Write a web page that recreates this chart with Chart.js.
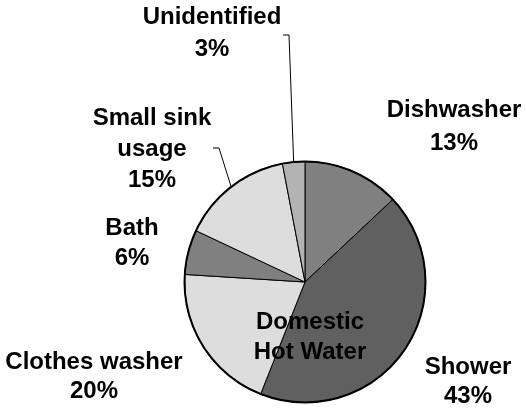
<!DOCTYPE html>
<html>
<head>
<meta charset="utf-8">
<script src="https://cdn.jsdelivr.net/npm/chart.js@4.4.1/dist/chart.umd.min.js"></script>
<style>
  html, body { margin: 0; padding: 0; background: #fff; }
  #wrap { width: 526px; height: 408px; position: relative; }
</style>
</head>
<body>
<div id="wrap"><canvas id="pie"></canvas></div>
<script>
// === Data ===
const categories = ['Dishwasher', 'Shower', 'Clothes washer', 'Bath', 'Small sink usage', 'Unidentified'];
const shares = [13, 43, 20, 6, 15, 3];
const sliceColors = ['#808080', '#606060', '#dddddd', '#808080', '#dddddd', '#b3b3b3'];
const centerTitle = ['Domestic', 'Hot Water'];

// label placement (text lines + centre point), leader start where one is drawn
const labelLayout = [
  { lines: ['Dishwasher'], x: 454, y: 110, lh: 33 },
  { lines: ['Shower'], x: 468, y: 367, lh: 29 },
  { lines: ['Clothes washer'], x: 94, y: 362, lh: 29 },
  { lines: ['Bath'], x: 132, y: 228, lh: 30 },
  { lines: ['Small sink', 'usage'], x: 152, y: 118, lh: 31, leader: [213, 148] },
  { lines: ['Unidentified'], x: 212, y: 17, lh: 32, leader: [283, 35] },
];

const FONT = 'bold 24px "Liberation Sans", Arial, sans-serif';

const labelsPlugin = {
  id: 'pieLabels',
  afterDatasetsDraw(chart) {
    const ctx = chart.ctx;
    const arcs = chart.getDatasetMeta(0).data;
    const c = arcs[0];

    // outer ring
    ctx.save();
    ctx.beginPath();
    ctx.arc(c.x, c.y, c.outerRadius, 0, Math.PI * 2);
    ctx.lineWidth = 2;
    ctx.strokeStyle = '#000';
    ctx.stroke();

    ctx.font = FONT;
    ctx.fillStyle = '#000';
    ctx.textAlign = 'center';
    ctx.textBaseline = 'middle';

    arcs.forEach((arc, i) => {
      const lay = labelLayout[i];
      const lines = lay.lines.concat([shares[i] + '%']);
      lines.forEach((t, k) => ctx.fillText(t, lay.x, lay.y + k * lay.lh));

      if (lay.leader) {
        const mid = (arc.startAngle + arc.endAngle) / 2;
        const ex = arc.x + Math.cos(mid) * arc.outerRadius;
        const ey = arc.y + Math.sin(mid) * arc.outerRadius;
        ctx.beginPath();
        ctx.lineWidth = 1;
        ctx.strokeStyle = '#000';
        ctx.moveTo(lay.leader[0], lay.leader[1]);
        ctx.lineTo(lay.leader[0] + 6, lay.leader[1]);
        ctx.lineTo(ex, ey);
        ctx.stroke();
      }
    });

    // centre title
    centerTitle.forEach((t, k) => ctx.fillText(t, 310, 322 + k * 30));
    ctx.restore();
  }
};

new Chart(document.getElementById('pie'), {
  type: 'pie',
  data: {
    labels: categories,
    datasets: [{
      data: shares,
      backgroundColor: sliceColors,
      borderColor: '#000',
      borderWidth: 1,
    }]
  },
  options: {
    responsive: true,
    maintainAspectRatio: false,
    animation: false,
    layout: { padding: { top: 161, bottom: 5, left: 184, right: 100 } },
    plugins: {
      legend: { display: false },
      tooltip: { enabled: false },
    }
  },
  plugins: [labelsPlugin]
});
</script>
</body>
</html>
